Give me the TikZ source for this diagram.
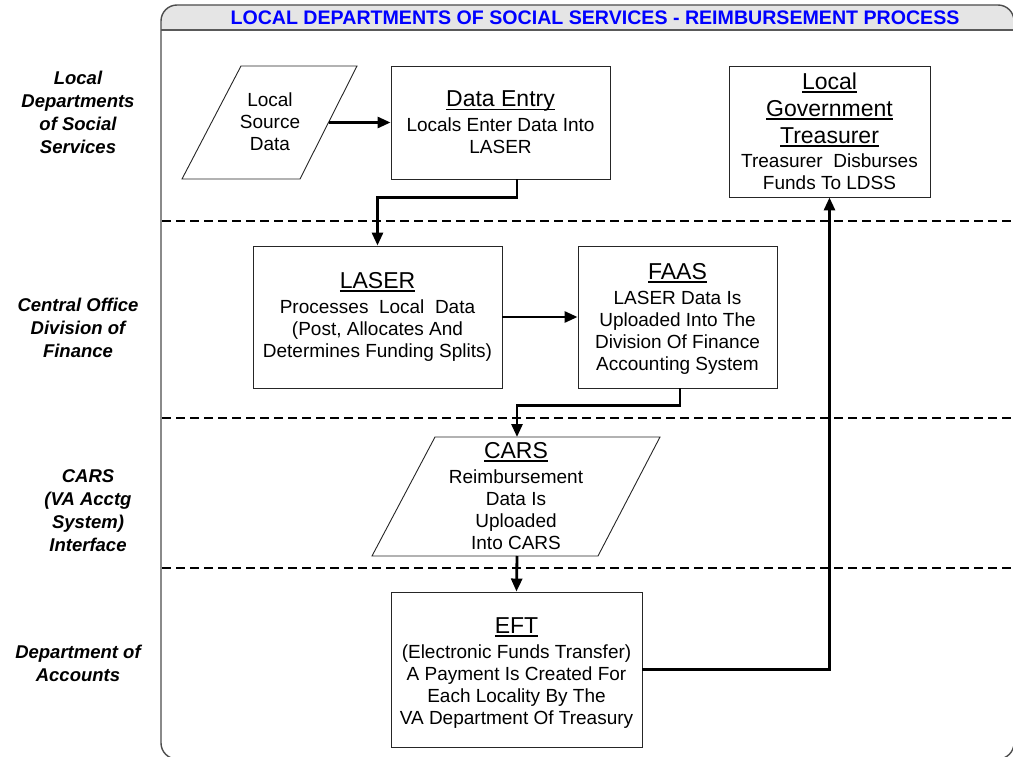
\documentclass[tikz,border=0pt]{standalone}
\usepackage{fontspec}
\setmainfont{Liberation Sans}
\usetikzlibrary{arrows.meta,calc}

% heading line with a heavier underline
\newcommand\hd[1]{\setbox0=\hbox{#1}\leavevmode\rlap{\raisebox{-3.4pt}{\rule{\wd0}{1.7pt}}}\box0}
\newcommand\headfont{\fontsize{23}{28}\selectfont}

\begin{document}
\begin{tikzpicture}[x=1pt,y=-1pt,
  box/.style={draw=black!85,line width=0.9pt,fill=white},
  txt/.style={align=center,font=\fontsize{19}{22}\selectfont,inner sep=0pt},
  lane/.style={align=center,font=\fontsize{18.5}{23}\selectfont\bfseries\itshape,inner sep=0pt},
  flow/.style={line width=2.8pt,-{Triangle[length=13pt,width=11pt]}},
  sep/.style={line width=2.5pt,dash pattern=on 9pt off 5pt},
]
\useasboundingbox (0,0) rectangle (1013,757);

% outer frame with grey title bar
\begin{scope}
  \clip (150,0) rectangle (1020,30);
  \fill[black!10,rounded corners=16pt] (161,5) rectangle (1014,759);
\end{scope}
\draw[black!70,line width=1.4pt,rounded corners=16pt] (161,5) rectangle (1014,759);
\draw[black!65,line width=1.8pt] (161,30) -- (1014,30);
\node[font=\fontsize{19.6}{21}\selectfont\bfseries,text=blue,inner sep=0pt] (title) at (595,17.5)
  {LOCAL DEPARTMENTS OF SOCIAL SERVICES - REIMBURSEMENT PROCESS};

% swim-lane separators
\draw[sep] (162,221) -- (1013,221);
\draw[sep] (162,418) -- (1013,418);
\draw[sep] (162,568) -- (1013,568);

% lane captions
\node[lane] (lane1) at (78,112) {Local\\Departments\\of Social\\Services};
\node[lane] (lane2) at (78,328) {Central Office\\Division of\\Finance};
\node[lane] (lane3) at (88,511) {CARS\\(VA Acctg\\System)\\Interface};
\node[lane] (lane4) at (78,663) {Department of\\Accounts};

% local source data (parallelogram)
\coordinate (lsdA) at (241,66);
\coordinate (lsdB) at (357,66);
\coordinate (lsdC) at (300,179);
\coordinate (lsdD) at (182,179);
\draw[box] (lsdA) -- (lsdB) -- (lsdC) -- (lsdD) -- cycle;
\coordinate (lsdR) at ($(lsdB)!0.5!(lsdC)$);
\node[txt] (lsd) at (270,122) {Local\\Source\\Data};

% process boxes
\node[box,txt,minimum width=219pt,minimum height=113pt] (entry) at (500.5,122.5)
  {{\headfont\hd{Data Entry}}\\[3pt]Locals Enter Data Into\\LASER};
\node[box,txt,minimum width=201pt,minimum height=131pt] (treas) at (829.5,131.5)
  {{\headfont\hd{Local}}\\[5pt]{\headfont\hd{Government}}\\[5pt]{\headfont\hd{Treasurer}}\\[2pt]Treasurer\ \ Disburses\\Funds To LDSS};
\node[box,txt,minimum width=249pt,minimum height=142pt] (laser) at (377.5,317)
  {{\headfont\hd{LASER}}\\[3pt]Processes\ \ Local\ \ Data\\(Post, Allocates And\\Determines Funding Splits)};
\node[box,txt,minimum width=199pt,minimum height=142pt,text depth=0pt] (faas) at (677.5,317)
  {{\headfont\hd{FAAS}}\\[3pt]LASER Data Is\\Uploaded Into The\\Division Of Finance\\Accounting System};

% CARS (parallelogram)
\coordinate (carsA) at (435,437);
\coordinate (carsB) at (660,437);
\coordinate (carsC) at (598,556);
\coordinate (carsD) at (372,556);
\draw[box] (carsA) -- (carsB) -- (carsC) -- (carsD) -- cycle;
\coordinate (carsT) at (517,437);
\coordinate (carsBot) at (517,556);
\node[txt] (cars) at (516,496)
  {{\headfont\hd{CARS}}\\[3pt]Reimbursement\\Data Is\\Uploaded\\Into CARS};

\node[box,txt,minimum width=251pt,minimum height=155pt] (eft) at (516.5,669.5) {};
\node[txt] (efttext) at (516.5,673)
  {{\headfont\hd{EFT}}\\[3pt](Electronic Funds Transfer)\\A Payment Is Created For\\Each Locality By The\\VA Department Of Treasury};

% flow connectors
\draw[flow] (lsdR) -- (entry.west |- lsdR);
\draw[flow] ([xshift=16.5pt]entry.south) -- ++(0,18) -| (laser.north);
\draw[flow] (laser.east) -- (faas.west);
\draw[flow] ([xshift=2.5pt]faas.south) -- ++(0,17) -| (carsT);
\draw[flow] (carsBot) -- (eft.north);
\draw[flow] (eft.east) -| (treas.south);
\end{tikzpicture}
\end{document}
